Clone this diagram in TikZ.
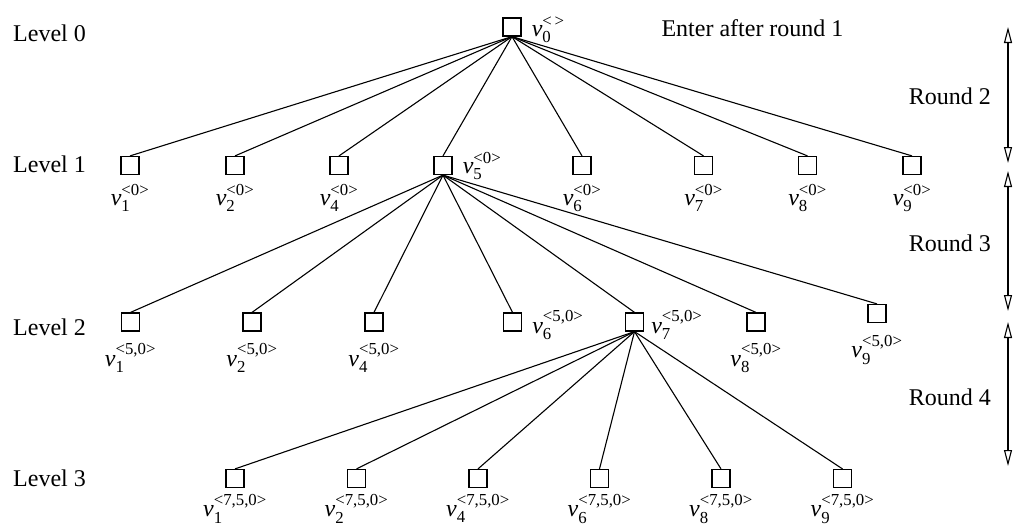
\documentclass[tikz,border=0pt]{standalone}
\usepackage{amsmath}
\usepackage{fontspec}
\setmainfont{Liberation Serif}
\usetikzlibrary{arrows.meta}
\newcommand\vlab[2]{$\mathit{v}_{\text{#1}}^{\text{#2}}$}
\begin{document}
\begin{tikzpicture}[x=1pt,y=-1pt,
  font=\fontsize{24}{28}\selectfont,
  box/.style={draw, line width=1.2pt, minimum size=18pt, inner sep=0pt},
  edge/.style={line width=1.1pt},
  lab/.style={inner sep=0pt, anchor=base},
  slab/.style={inner sep=0pt, anchor=base west},
  lvl/.style={inner sep=0pt, anchor=base west},
  rtxt/.style={inner sep=0pt, anchor=base east},
  rng/.style={line width=1.1pt, {Triangle[open,length=16pt,width=8pt]}-{Triangle[open,length=16pt,width=8pt]}}]
\useasboundingbox (0,0) rectangle (1021,528);

% level labels
\node[lvl] (l0) at (13,41) {Level 0};
\node[lvl] (l1) at (13,172) {Level 1};
\node[lvl] (l2) at (13,335) {Level 2};
\node[lvl] (l3) at (13,486) {Level 3};

% level 0
\node[box] (r) at (512,27) {};
\node[slab] (rl) at ([xshift=10pt,yshift=-9pt]r.east) {\vlab{0}{<\,>}};
\node[inner sep=0pt, anchor=base] (enter) at (752.5,36) {Enter after round 1};

% level 1
\foreach \n/\x in {1/130,2/235,4/339,5/443,6/582,7/703.5,8/807.5,9/912}
  \node[box] (a\n) at (\x,165.5) {};
\foreach \n in {1,2,4,6,7,8,9}
  \node[lab] (al\n) at ([yshift=-39.5pt]a\n.center) {\vlab{\n}{<0>}};
\node[slab] (al5) at ([xshift=10pt,yshift=-7.5pt]a5.east) {\vlab{5}{<0>}};

% level 2
\foreach \n/\x in {1/130.5,2/252,4/374,6/512.5,7/634.5,8/756}
  \node[box] (b\n) at (\x,322) {};
\node[box] (b9) at (877,313.5) {};
\foreach \n in {1,2,4,8,9}
  \node[lab] (bl\n) at ([yshift=-44pt]b\n.center) {\vlab{\n}{<5,0>}};
\node[slab] (bl6) at ([xshift=10pt,yshift=-11pt]b6.east) {\vlab{6}{<5,0>}};
\node[slab] (bl7) at ([xshift=7pt,yshift=-11pt]b7.east) {\vlab{7}{<5,0>}};

% level 3
\foreach \n/\x in {1/235,2/356.5,4/478,6/599.5,8/721,9/842.5}
  \node[box] (c\n) at (\x,478.5) {};
\foreach \n in {1,2,4,6,8,9}
  \node[lab] (cl\n) at ([yshift=-38pt]c\n.center) {\vlab{\n}{<7,5,0>}};

% edges
\foreach \n in {1,2,4,5,6,7,8,9}
  \draw[edge] (r.south) -- (a\n.north);
\foreach \n in {1,2,4,6,7,8,9}
  \draw[edge] (a5.south) -- (b\n.north);
\foreach \n in {1,2,4,6,8,9}
  \draw[edge] (b7.south) -- (c\n.north);

% rounds
\coordinate (p1) at (1008,27);
\coordinate (p2) at (1008,163);
\coordinate (p3) at (1008,171);
\coordinate (p4) at (1008,311);
\coordinate (p5) at (1008,322);
\coordinate (p6) at (1008,466);
\draw[rng] (p1) -- (p2);
\draw[rng] (p3) -- (p4);
\draw[rng] (p5) -- (p6);
\node[rtxt] (rd2) at (991,104) {Round 2};
\node[rtxt] (rd3) at (991,251) {Round 3};
\node[rtxt] (rd4) at (991,405) {Round 4};
\end{tikzpicture}
\end{document}
